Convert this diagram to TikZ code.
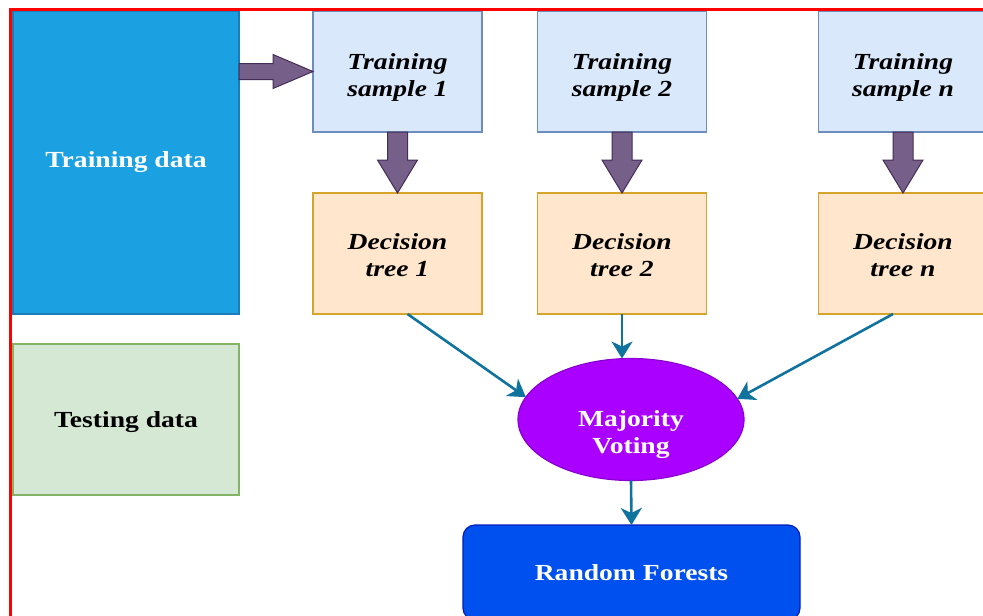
\documentclass[tikz,border=0pt]{standalone}
\usepackage{fontspec}
\setmainfont[FakeStretch=1.2]{Liberation Serif}
\usetikzlibrary{calc,arrows.meta,shapes.geometric}
\definecolor{tdfill}{HTML}{1BA1E2}
\definecolor{tddraw}{HTML}{1C7CBA}
\definecolor{tsfill}{HTML}{DAE8FC}
\definecolor{tsdraw}{HTML}{6C8EBF}
\definecolor{dtfill}{HTML}{FFE6CC}
\definecolor{dtdraw}{HTML}{D6A429}
\definecolor{tefill}{HTML}{D5E8D4}
\definecolor{tedraw}{HTML}{82B366}
\definecolor{mvfill}{HTML}{AA00FF}
\definecolor{mvdraw}{HTML}{8A00D0}
\definecolor{rffill}{HTML}{0050EF}
\definecolor{rfdraw}{HTML}{001DBC}
\definecolor{fatfill}{HTML}{76608A}
\definecolor{fatdraw}{HTML}{432D57}
\definecolor{teal}{HTML}{10739E}
\newcommand\fatdown[2]{%
  \draw[fatarrow] ($(#1.south)+(-10,0)$) -- ($(#1.south)+(-10,28)$) -- ($(#1.south)+(-20,28)$)
    -- (#2.north) -- ($(#1.south)+(20,28)$) -- ($(#1.south)+(10,28)$) -- ($(#1.south)+(10,0)$) -- cycle;}
\begin{document}
\begin{tikzpicture}[x=1pt,y=-1pt,
  box/.style={draw, line width=1.2pt, minimum width=169pt, minimum height=121pt, inner sep=0pt, outer sep=0pt},
  sbox/.style={box, fill=tsfill, draw=tsdraw},
  dbox/.style={box, fill=dtfill, draw=dtdraw},
  btxt/.style={font=\fontsize{23}{27}\selectfont\bfseries, align=center, inner sep=0pt},
  itxt/.style={btxt, font=\fontsize{23}{27}\selectfont\bfseries\itshape},
  fatarrow/.style={fill=fatfill, draw=fatdraw, line width=1pt, line join=miter},
  conn/.style={draw=teal, line width=2.6pt, -{Stealth[length=17pt,width=21pt,inset=5pt]}}
]
\useasboundingbox (0,0) rectangle (983,616);
\clip (0,0) rectangle (983,616);
\fill[white] (0,0) rectangle (983,616);

% left boxes
\node[draw=tddraw, fill=tdfill, line width=1.2pt, minimum width=226pt, minimum height=303pt, inner sep=0pt, outer sep=0pt] (train) at (126,162.5) {};
\node[btxt, text=white] (traint) at (train.center) {Training data};
\node[draw=tedraw, fill=tefill, line width=1.2pt, minimum width=226pt, minimum height=151pt, inner sep=0pt, outer sep=0pt] (test) at (126,419.5) {};
\node[btxt, text=black] (testt) at ($(test.center)+(0,3)$) {Testing data};

% training samples
\node[sbox] (s1) at (397.5,71.5) {};
\node[sbox] (s2) at (622,71.5) {};
\node[sbox] (sn) at (903,71.5) {};
\node[itxt] (s1t) at ($(s1.center)+(0,6)$) {Training\\sample 1};
\node[itxt] (s2t) at ($(s2.center)+(0,6)$) {Training\\sample 2};
\node[itxt] (snt) at ($(sn.center)+(0,6)$) {Training\\sample \textit{n}};

% decision trees
\node[dbox] (d1) at (397.5,253.5) {};
\node[dbox] (d2) at (622,253.5) {};
\node[dbox] (dn) at (903,253.5) {};
\node[itxt] (d1t) at ($(d1.center)+(0,2)$) {Decision\\tree 1};
\node[itxt] (d2t) at ($(d2.center)+(0,2)$) {Decision\\tree 2};
\node[itxt] (dnt) at ($(dn.center)+(0,2)$) {Decision\\tree \textit{n}};

% majority voting
\node[ellipse, draw=mvdraw, fill=mvfill, line width=1.2pt, minimum width=226pt, minimum height=122pt, inner sep=0pt, outer sep=0pt] (mv) at (631,419.5) {};
\node[btxt, text=white] (mvt) at ($(mv.center)+(0,15)$) {Majority\\Voting};

% random forests
\node[draw=rfdraw, fill=rffill, line width=1.2pt, rounded corners=12pt, minimum width=337pt, minimum height=95pt, inner sep=0pt, outer sep=0pt] (rf) at (631.5,572.5) {};
\node[btxt, text=white] (rft) at (rf.center) {Random Forests};

% fat arrows
\coordinate (hs) at (train.east |- s1.west);
\draw[fatarrow] ($(hs)+(0,-8)$) -- ($(hs)+(34,-8)$) -- ($(hs)+(34,-17)$) -- (s1.west)
  -- ($(hs)+(34,17)$) -- ($(hs)+(34,8)$) -- ($(hs)+(0,8)$) -- cycle;
\fatdown{s1}{d1}
\fatdown{s2}{d2}
\fatdown{sn}{dn}

% teal connectors
\draw[conn] ($(d1.south)+(10,0)$) -- (mv.168);
\draw[conn] (d2.south) -- (d2.south |- mv.north);
\draw[conn] ($(dn.south)+(-10,0)$) -- (mv.11);
\draw[conn] (mv.south) -- (rf.north);

% red frame
\draw[red, line width=3pt] (10.5,700) -- (10.5,9.5) -- (1000,9.5);
\end{tikzpicture}
\end{document}
